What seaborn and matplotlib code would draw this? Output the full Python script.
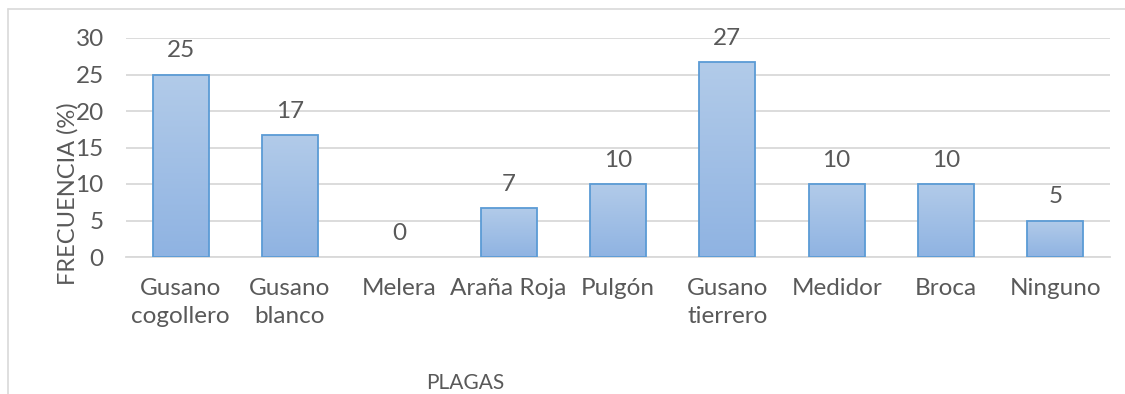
import numpy as np
import pandas as pd
import matplotlib
matplotlib.use("Agg")
import matplotlib.pyplot as plt
from matplotlib.lines import Line2D
from matplotlib.colors import LinearSegmentedColormap
import seaborn as sns

# Pest frequency data
plagas = ["Gusano\ncogollero", "Gusano\nblanco", "Melera", "Araña Roja", "Pulgón",
          "Gusano\ntierrero", "Medidor", "Broca", "Ninguno"]
frecuencia = [25.0, 16.67, 0.0, 6.67, 10.0, 26.67, 10.0, 10.0, 5.0]
etiquetas = ["25", "17", "0", "7", "10", "27", "10", "10", "5"]
y_ticks = [0, 5, 10, 15, 20, 25, 30]

sns.set_theme(style="white")
plt.rcParams["font.family"] = ["Lato", "DejaVu Sans"]

TEXT = "#595959"
GRID = "#D9D9D9"
EDGE = "#5B9BD5"
FS = 17.5

df = pd.DataFrame({"plaga": plagas, "frecuencia": frecuencia})

fig = plt.figure(figsize=(11.25, 3.94), dpi=100)
ax = fig.add_axes([126 / 1125, 137 / 394, 984 / 1125, 219 / 394])

sns.barplot(data=df, x="plaga", y="frecuencia", ax=ax, width=0.51,
            color="#9DBDE6", edgecolor=EDGE, linewidth=1.3, saturation=1, zorder=3)

# Vertical gradient fill inside each bar
grad_cmap = LinearSegmentedColormap.from_list("barfill", ["#8FB3E2", "#B2CBE9"])
gradient = np.linspace(0, 1, 256).reshape(-1, 1)
for patch in ax.patches:
    x0, y0 = patch.get_x(), patch.get_y()
    w, h = patch.get_width(), patch.get_height()
    if h <= 0:
        patch.set_visible(False)
        continue
    im = ax.imshow(gradient, cmap=grad_cmap, origin="lower", aspect="auto",
                   extent=(x0, x0 + w, y0, y0 + h), zorder=3.5)
    im.set_clip_path(patch)
    patch.set_facecolor("none")
    patch.set_zorder(4)
ax.set_xlim(-0.5, len(plagas) - 0.5)
ax.set_ylim(0, 30)
ax.set_yticks(y_ticks)

# Value labels above bars
for i, (v, lab) in enumerate(zip(frecuencia, etiquetas)):
    ax.annotate(lab, (i, v), xytext=(0, 12.5), textcoords="offset points",
                ha="center", va="baseline", fontsize=FS, color=TEXT)

# Grid and spines
ax.grid(axis="y", color=GRID, linewidth=1.3, zorder=0)
ax.set_axisbelow(True)
for s in ["top", "right", "left"]:
    ax.spines[s].set_visible(False)
ax.spines["bottom"].set_color(GRID)
ax.spines["bottom"].set_linewidth(1.3)

ax.tick_params(axis="y", length=0, pad=16, labelsize=FS, labelcolor=TEXT)
ax.tick_params(axis="x", length=0, pad=15, labelsize=FS, labelcolor=TEXT)
for t in ax.get_xticklabels():
    t.set_linespacing(1.45)
    t.set_verticalalignment("top")

ax.set_ylabel("FRECUENCIA (%)", fontsize=17, color=TEXT)
ax.yaxis.label.set_rotation_mode("anchor")
ax.yaxis.label.set_horizontalalignment("center")
ax.yaxis.label.set_verticalalignment("center")
ax.yaxis.set_label_coords(-0.059, 0.29)
ax.set_xlabel("PLAGAS", fontsize=15, color=TEXT)
ax.xaxis.set_label_coords(0.345, -0.575)
ax.xaxis.label.set_verticalalignment("center")

# Chart area border (top and left edges)
fig.add_artist(Line2D([8 / 1125, 1.0], [1 - 9 / 394, 1 - 9 / 394],
                      transform=fig.transFigure, color=GRID, linewidth=1.2))
fig.add_artist(Line2D([8 / 1125, 8 / 1125], [0, 1 - 9 / 394],
                      transform=fig.transFigure, color=GRID, linewidth=1.2))

fig.savefig("out.png", dpi=100, facecolor="white")
